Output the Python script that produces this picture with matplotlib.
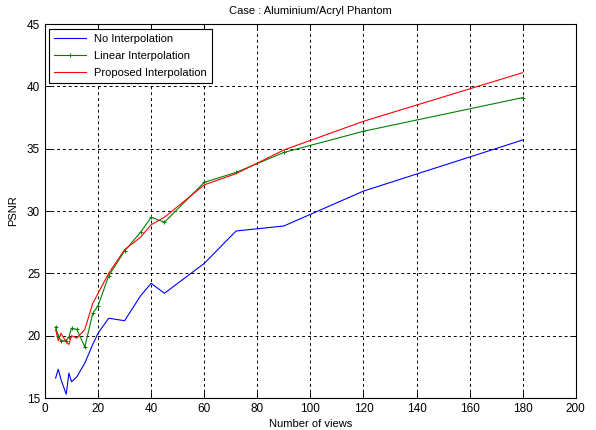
import matplotlib
matplotlib.use("Agg")
import matplotlib.pyplot as plt

plt.rcParams['font.family'] = ['Liberation Sans', 'DejaVu Sans']

# number of views (divisors of 360)
views = [4, 5, 6, 8, 9, 10, 12, 15, 18, 20, 24, 30, 36, 40, 45, 60, 72, 90, 120, 180]
psnr_none = [16.6, 17.3, 16.5, 15.3, 17.0, 16.3, 16.7, 17.8, 19.3, 20.2, 21.4, 21.2,
             23.2, 24.2, 23.4, 25.8, 28.4, 28.8, 31.6, 35.7]
psnr_linear = [20.7, 20.0, 19.6, 19.6, 19.9, 20.6, 20.5, 19.1, 21.8, 22.4, 24.8, 26.8,
               28.3, 29.5, 29.1, 32.3, 33.1, 34.7, 36.4, 39.1]
psnr_proposed = [20.5, 19.6, 20.2, 19.5, 19.3, 20.0, 19.8, 20.5, 22.6, 23.4, 25.0, 26.9,
                 27.9, 28.9, 29.5, 32.1, 33.0, 34.9, 37.2, 41.1]

fig = plt.figure(figsize=(5.96, 4.30), dpi=100)
ax = fig.add_axes([0.0755, 0.0744, 0.8905, 0.8696])

ax.plot(views, psnr_none, color='blue', lw=0.8, label='No Interpolation')
ax.plot(views, psnr_linear, color='#008000', lw=0.8, marker='+', ms=2.5, mew=0.7,
        label='Linear Interpolation')
ax.plot(views, psnr_proposed, color='red', lw=0.8, label='Proposed Interpolation')

ax.set_xlim(0, 200)
ax.set_ylim(15, 45)
ax.set_xticks(range(0, 201, 20))
ax.set_yticks(range(15, 46, 5))
ax.grid(True, color='black', linestyle=(0, (3, 3)), linewidth=0.7)
ax.tick_params(direction='in', top=True, right=True, labelsize=8.5, length=4, width=0.7)
for s in ax.spines.values():
    s.set_linewidth(0.8)

ax.set_title('Case : Aluminium/Acryl Phantom', fontsize=8, pad=7)
ax.set_xlabel('Number of views', fontsize=8, labelpad=3)
ax.set_ylabel('PSNR', fontsize=8, labelpad=6)

leg = ax.legend(loc='upper left', fontsize=8, fancybox=False, framealpha=1,
                edgecolor='black', borderaxespad=0.4, handlelength=2.8,
                labelspacing=0.65, borderpad=0.45)
leg.get_frame().set_linewidth(0.8)

fig.savefig('out.png', dpi=100)
